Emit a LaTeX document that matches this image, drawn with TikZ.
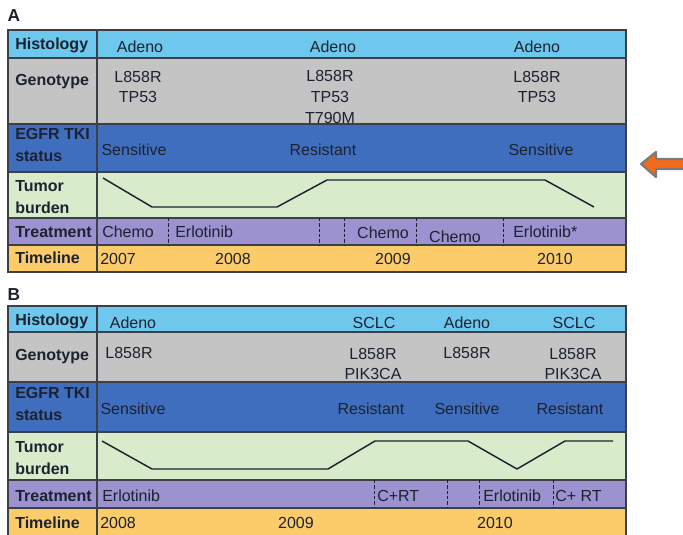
\documentclass[tikz,border=0pt]{standalone}
\usepackage{fontspec}
\setmainfont{Liberation Sans}
\definecolor{histo}{HTML}{6EC8EE}
\definecolor{geno}{HTML}{C4C4C4}
\definecolor{egfr}{HTML}{406EBE}
\definecolor{tumor}{HTML}{D8EBCB}
\definecolor{treat}{HTML}{9B92CF}
\definecolor{timel}{HTML}{FCCB6A}
\definecolor{rowline}{HTML}{3A3F48}
\definecolor{ink}{HTML}{1C2230}
\definecolor{arrowor}{HTML}{F26A1B}
\definecolor{arrowgr}{HTML}{7A7A7A}

\begin{document}
\begin{tikzpicture}[x=0.75pt,y=-0.75pt,
  font=\fontsize{12}{15.5}\selectfont,
  lab/.style={anchor=west,align=left,inner sep=0pt,text=ink,font=\fontsize{12}{17}\selectfont\bfseries},
  txt/.style={align=center,inner sep=0pt,text=ink},
  burden/.style={draw=ink,line width=1.1pt,line join=round},
  divider/.style={draw=ink,line width=0.7pt,dash pattern=on 2.5pt off 1.5pt}]
\useasboundingbox (0,0) rectangle (683,535);

% panel A
\foreach \top/\bot/\col in {30/58/histo,58/124/geno,124/172/egfr,172/218/tumor,218/245/treat,245/272/timel}{
\filldraw[fill=\col,draw=rowline,line width=0.9pt] (8,\top) rectangle (626,\bot);
}
\draw[rowline,line width=1.2pt] (97,30) -- (97,272);
\node[font=\fontsize{13}{13}\selectfont\bfseries,text=ink] (panA) at (14,16) {A};

\node[lab] (labA1) at (15,45) {Histology};
\node[lab] (labA2) at (15,82) {Genotype};
\node[lab] (labA3) at (15,145) {EGFR TKI\\status};
\node[lab] (labA4) at (15,197) {Tumor\\burden};
\node[lab] (labA5) at (15,232) {Treatment};
\node[lab] (labA6) at (15,258) {Timeline};

\node[txt] (hisA1) at (140,47) {Adeno};
\node[txt] (hisA2) at (333,47) {Adeno};
\node[txt] (hisA3) at (537,47) {Adeno};
\node[txt] (genA1) at (138,87) {L858R\\TP53};
\node[txt] (genA2) at (330,97) {L858R\\TP53\\T790M};
\node[txt] (genA3) at (537,87) {L858R\\TP53};
\node[txt] (tkiA1) at (134,150) {Sensitive};
\node[txt] (tkiA2) at (323,150) {Resistant};
\node[txt] (tkiA3) at (541,150) {Sensitive};

\draw[burden] (103,178) -- (152,207) -- (277,207) -- (327,180) -- (545,180) -- (594,207);

\foreach \x in {168,319,344,416,503}{
\draw[divider] (\x,218) -- (\x,245);
}
\node[txt,anchor=west] (trtA1) at (102,232) {Chemo};
\node[txt,anchor=west] (trtA2) at (175,232) {Erlotinib};
\node[txt] (trtA3) at (383,233) {Chemo};
\node[txt] (trtA4) at (455,237) {Chemo};
\node[txt,anchor=west] (trtA5) at (513,232) {Erlotinib*};

\node[txt,anchor=west] (yrA1) at (100,259) {2007};
\node[txt] (yrA2) at (233,259) {2008};
\node[txt] (yrA3) at (393,259) {2009};
\node[txt] (yrA4) at (555,259) {2010};

% arrow
\filldraw[fill=arrowor,draw=arrowgr,line width=1.6pt,line join=round]
  (641,164) -- (656,152) -- (656,159) -- (686,159) -- (686,169) -- (656,169) -- (656,177) -- cycle;

% panel B
\foreach \top/\bot/\col in {306/332/histo,332/382/geno,382/432/egfr,432/480/tumor,480/508/treat,508/538/timel}{
\filldraw[fill=\col,draw=rowline,line width=0.9pt] (8,\top) rectangle (626,\bot);
}
\draw[rowline,line width=1.2pt] (97,306) -- (97,538);
\node[font=\fontsize{13}{13}\selectfont\bfseries,text=ink] (panB) at (14,295) {B};

\node[lab] (labB1) at (15,321) {Histology};
\node[lab] (labB2) at (15,357) {Genotype};
\node[lab] (labB3) at (15,404) {EGFR TKI\\status};
\node[lab] (labB4) at (15,458) {Tumor\\burden};
\node[lab] (labB5) at (15,496) {Treatment};
\node[lab] (labB6) at (15,523) {Timeline};

\node[txt] (hisB1) at (133,323) {Adeno};
\node[txt] (hisB2) at (374,323) {SCLC};
\node[txt] (hisB3) at (467,323) {Adeno};
\node[txt] (hisB4) at (574,323) {SCLC};
\node[txt] (genB1) at (129,353) {L858R};
\node[txt] (genB2) at (373,364) {L858R\\PIK3CA};
\node[txt] (genB3) at (467,353) {L858R};
\node[txt] (genB4) at (573,364) {L858R\\PIK3CA};
\node[txt] (tkiB1) at (133,409) {Sensitive};
\node[txt] (tkiB2) at (371,409) {Resistant};
\node[txt] (tkiB3) at (467,409) {Sensitive};
\node[txt] (tkiB4) at (570,409) {Resistant};

\draw[burden] (102,441) -- (152,469) -- (328,469) -- (375,441) -- (468,441) -- (517,469) -- (565,441) -- (613,441);

\foreach \x in {374,447,479,553}{
\draw[divider] (\x,480) -- (\x,508);
}
\node[txt,anchor=west] (trtB1) at (102,496) {Erlotinib};
\node[txt,anchor=west] (trtB2) at (377,496) {C+RT};
\node[txt,anchor=west] (trtB3) at (483,496) {Erlotinib};
\node[txt,anchor=west] (trtB4) at (555,496) {C+ RT};

\node[txt,anchor=west] (yrB1) at (100,523) {2008};
\node[txt] (yrB2) at (296,523) {2009};
\node[txt] (yrB3) at (495,523) {2010};
\end{tikzpicture}
\end{document}
